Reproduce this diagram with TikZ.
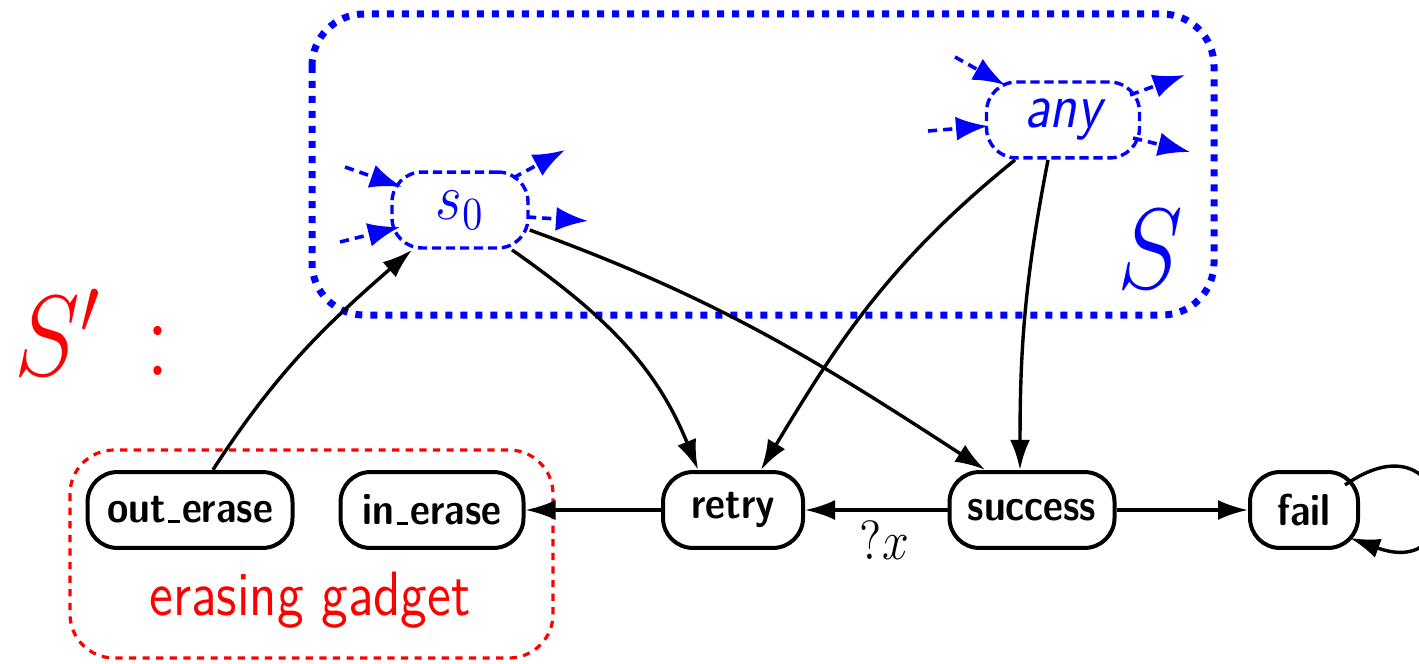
\documentclass[tikz,border=0pt]{standalone}
\usetikzlibrary{arrows.meta}
\definecolor{gblue}{RGB}{0,0,255}
\definecolor{gred}{RGB}{255,0,0}
\newcommand\statefont{\fontsize{9.7pt}{11pt}\sffamily\bfseries\selectfont}
\newcommand\bigfont{\fontsize{13.6pt}{16pt}\selectfont}
% short low rule used as underscore in state names
\newcommand\usc{\leavevmode\kern.06em\vbox{\hrule width .3em height .65pt}\kern.06em}
\tikzset{
  vs/.style={yscale=1.15},
  state/.style={vs, draw=black, line width=1pt, rounded corners=7.5pt,
    minimum height=16.5pt, inner xsep=2pt, inner ysep=0pt, font=\statefont},
  ghost/.style={vs, draw=gblue, line width=0.85pt, dash pattern=on 2.3pt off 1.2pt,
    rounded corners=7.5pt, minimum height=16.5pt, inner ysep=0pt, text=gblue, font=\bigfont},
  edge/.style={line width=0.85pt, -{Latex[length=7.5pt,width=5pt]}},
  stub/.style={gblue, line width=0.9pt, dash pattern=on 2.3pt off 1.5pt,
    -{Latex[length=8pt,width=6pt]}},
  lbl/.style={vs, inner sep=0pt},
}
\begin{document}
\begin{tikzpicture}[x=0.25pt, y=0.25pt]
\useasboundingbox (0,0) rectangle (1419,-663);

% frames
\draw[gblue, line width=1.75pt, dash pattern=on 1.75pt off 2pt, rounded corners=13pt]
  (312,-14) rectangle (1214,-315);
\draw[gred, line width=0.8pt, dash pattern=on 1.8pt off 1.6pt, rounded corners=11pt]
  (70,-450) rectangle (553,-658);

% states
\node[state, minimum width=51.25pt] (oute) at (190,-510) {out\usc erase};
\node[state, minimum width=45.75pt] (ine) at (432,-510) {in\usc erase};
\node[state, minimum width=35pt] (retry) at (733,-510) {retry};
\node[state, minimum width=41.25pt] (success) at (1032,-510) {success};
\node[state, minimum width=27pt] (fail) at (1304,-510) {fail};

\node[ghost, minimum width=34pt] (s0) at (460,-210) {$s_0$};
\node[ghost, minimum width=38.25pt] (any) at (1063,-120) {\sffamily\itshape any};

% labels
\node[lbl, text=gblue, font=\fontsize{25pt}{30pt}\selectfont] (S) at (1150,-249) {$S$};
\node[lbl, text=gred, anchor=base west, font=\fontsize{25pt}{30pt}\selectfont] (Sp) at (14,-375) {$S'\,:$};
\node[lbl, text=gred, anchor=base, font=\bigfont\sffamily] (gadget) at (310,-615) {erasing gadget};

% transitions
\draw[edge] ([xshift=5.75pt]oute.north) to[out=57,in=-139] ([xshift=-12pt]s0.south);
\draw[edge] ([xshift=13pt]s0.south) to[out=-35,in=112] ([xshift=-8.75pt]retry.north);
\draw[edge] ([yshift=-5pt]s0.east) to[out=-20,in=147] ([xshift=-11.75pt]success.north);
\draw[edge] ([xshift=-12pt]any.south) to[out=-141,in=59] ([xshift=7pt]retry.north);
\draw[edge] ([xshift=-3.75pt]any.south) to[out=-101,in=90] ([xshift=-3pt]success.north);
\draw[edge] (success.west) -- node[lbl, below=2pt, xshift=2pt, font=\fontsize{12pt}{14pt}\selectfont] (qx) {$?x$} (retry.east);
\draw[edge] (retry.west) -- (ine.east);
\draw[edge] (success.east) -- (fail.west);
\draw[edge] ([shift={(41,25)}]fail.center) .. controls +(35:130) and +(-20:130) .. ([shift={(46,-28)}]fail.center);

% open-ended stubs around the abstract states
\coordinate (a1) at (345,-167);
\coordinate (a2) at (340,-242);
\coordinate (a3) at (565,-150);
\coordinate (a4) at (588,-221);
\draw[stub] (a1) -- ([shift={(-58,23)}]s0.center);
\draw[stub] (a2) -- ([shift={(-60,-17)}]s0.center);
\draw[stub] ([shift={(53,32)}]s0.center) -- (a3);
\draw[stub] ([shift={(67,-7)}]s0.center) -- (a4);

\coordinate (b1) at (955,-57);
\coordinate (b2) at (928,-131);
\coordinate (b3) at (1185,-75);
\coordinate (b4) at (1190,-152);
\draw[stub] (b1) -- ([shift={(-58,35)}]any.center);
\draw[stub] (b2) -- ([shift={(-75,-6)}]any.center);
\draw[stub] ([shift={(67,25)}]any.center) -- (b3);
\draw[stub] ([shift={(70,-18)}]any.center) -- (b4);
\end{tikzpicture}
\end{document}
